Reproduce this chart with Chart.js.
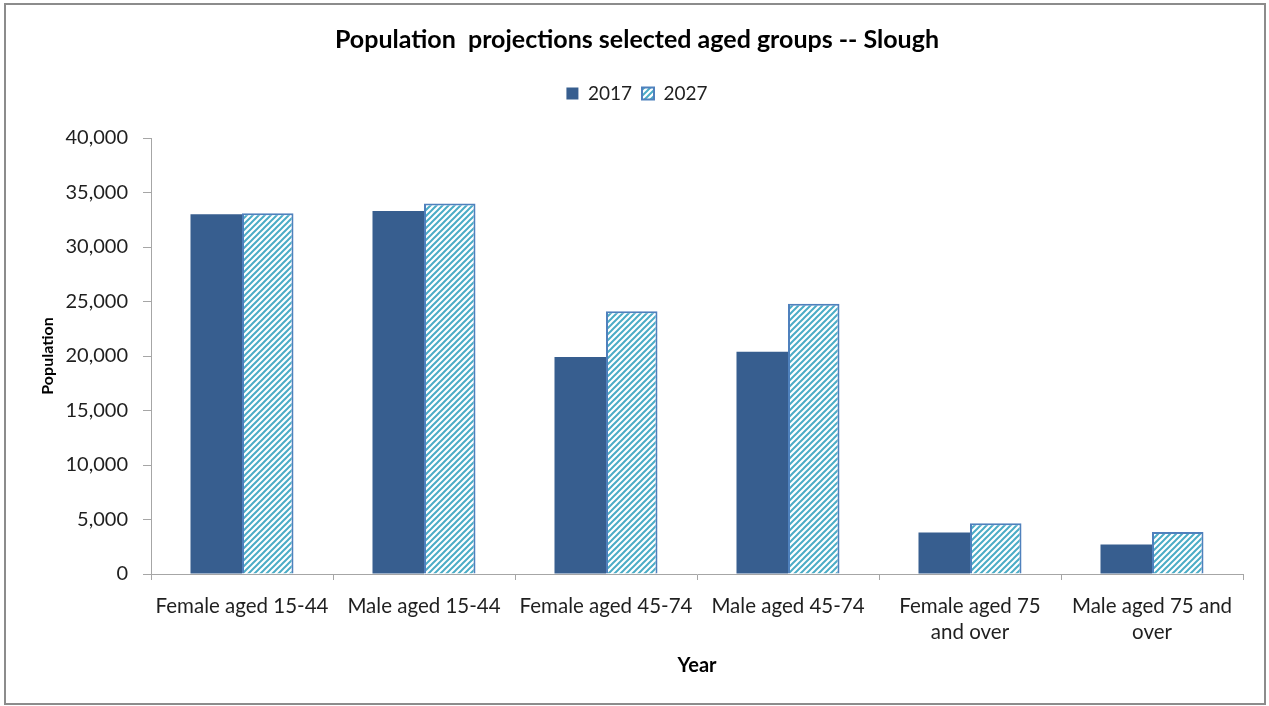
<!DOCTYPE html>
<html>
<head>
<meta charset="utf-8">
<script src="https://cdn.jsdelivr.net/npm/chart.js@4/dist/chart.umd.min.js"></script>
<style>
  html, body { margin: 0; padding: 0; background: #ffffff; }
  #wrap { position: relative; width: 1269px; height: 706px; }
</style>
</head>
<body>
<div id="wrap"><canvas id="c" width="1269" height="706"></canvas></div>
<script>
// Age groups and projected population counts
const categories = [
  'Female aged 15-44',
  'Male aged 15-44',
  'Female aged 45-74',
  'Male aged 45-74',
  ['Female aged 75', 'and over'],
  ['Male aged 75 and', 'over']
];
const seriesNames = ['2017', '2027'];
const pop2017 = [33000, 33300, 19900, 20400, 3800, 2700];
const pop2027 = [33100, 34000, 24100, 24800, 4650, 3850];
const yTicks = [0, 5000, 10000, 15000, 20000, 25000, 30000, 35000, 40000];

const FONT = "Lato, 'Open Sans', 'DejaVu Sans', sans-serif";
const SOLID = '#375e8f';
const STRIPE = '#4bacc6';
const OUTLINE = '#4f81bd';
const AXIS = '#a6a6a6';
const TEXT = '#1f1f1f';

// Diagonal hatch fill for the projected series
function hatch(size, color, bg, lw) {
  const c = document.createElement('canvas');
  c.width = size; c.height = size;
  const g = c.getContext('2d');
  g.fillStyle = bg; g.fillRect(0, 0, size, size);
  g.strokeStyle = color; g.lineWidth = lw;
  g.beginPath();
  g.moveTo(-1, size + 1); g.lineTo(size + 1, -1);
  g.moveTo(-1, 1); g.lineTo(1, -1);
  g.moveTo(size - 1, size + 1); g.lineTo(size + 1, size - 1);
  g.stroke();
  return g.createPattern(c, 'repeat');
}
const ctx = document.getElementById('c').getContext('2d');
const hatchFill = hatch(6, STRIPE, '#ffffff', 2);

// Outer frame of the chart
const frame = {
  id: 'frame',
  afterDraw(chart) {
    const g = chart.ctx;
    g.save();
    g.strokeStyle = '#8c8c8c';
    g.lineWidth = 2;
    g.strokeRect(5, 4, 1260, 700);
    g.restore();
  }
};

new Chart(ctx, {
  type: 'bar',
  data: {
    labels: categories,
    datasets: [
      {
        label: seriesNames[0],
        data: pop2017,
        backgroundColor: SOLID,
        borderColor: SOLID,
        borderWidth: 0
      },
      {
        label: seriesNames[1],
        data: pop2027,
        backgroundColor: hatchFill,
        borderColor: OUTLINE,
        borderWidth: 2
      }
    ]
  },
  options: {
    responsive: false,
    animation: false,
    events: [],
    layout: { padding: { left: 31, right: 26, top: 0, bottom: 26 } },
    datasets: { bar: { categoryPercentage: 0.566, barPercentage: 1.0 } },
    plugins: {
      title: {
        display: true,
        text: 'Population  projections selected aged groups -- Slough',
        color: '#000000',
        font: { family: FONT, size: 25, weight: 'bold', lineHeight: 1.2 },
        padding: { top: 25, bottom: 19 }
      },
      legend: {
        display: true,
        position: 'top',
        labels: {
          color: TEXT,
          font: { family: FONT, size: 19 },
          boxWidth: 12,
          boxHeight: 12,
          padding: 10
        }
      },
      tooltip: { enabled: false }
    },
    scales: {
      // empty band between the legend and the plot
      xTop: {
        type: 'category',
        position: 'top',
        display: true,
        grid: { display: false, drawTicks: false },
        border: { display: false },
        ticks: { display: false },
        afterFit(s) { s.height = 25; }
      },
      x: {
        afterFit(s) { s.height = 106; },
        grid: {
          display: true,
          offset: true,
          drawOnChartArea: false,
          drawTicks: true,
          tickLength: 6,
          color: AXIS
        },
        border: { display: true, color: AXIS, width: 1 },
        ticks: {
          color: TEXT,
          font: { family: FONT, size: 20.5, lineHeight: 1.25 },
          maxRotation: 0,
          minRotation: 0,
          autoSkip: false,
          padding: 14
        },
        title: {
          display: true,
          text: 'Year',
          color: '#000000',
          font: { family: FONT, size: 20, weight: 'bold' },
          padding: { top: 0, bottom: 2 }
        }
      },
      y: {
        min: 0,
        max: 40000,
        afterFit(s) { s.width = 120; },
        afterBuildTicks(axis) { axis.ticks = yTicks.map(v => ({ value: v })); },
        grid: {
          display: true,
          drawOnChartArea: false,
          drawTicks: true,
          tickLength: 8,
          color: AXIS
        },
        border: { display: true, color: AXIS, width: 1 },
        ticks: {
          color: TEXT,
          font: { family: FONT, size: 20 },
          padding: 15,
          callback: v => v.toLocaleString('en-US')
        },
        title: {
          display: true,
          text: 'Population',
          color: '#000000',
          font: { family: FONT, size: 16, weight: 'bold' },
          padding: { top: 7, bottom: 0 }
        }
      }
    }
  },
  plugins: [frame]
});
</script>
</body>
</html>
